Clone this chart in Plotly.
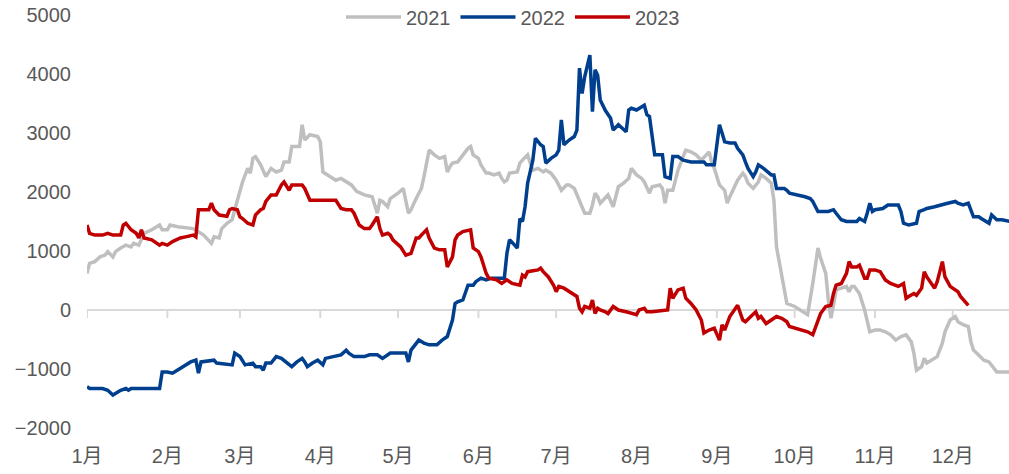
import pandas as pd
import plotly.graph_objects as go

# (day offset from Jan 1, value) pairs
s2021 = [(0,620),(1,790),(3,820),(5,900),(7,930),(8,990),(10,900),(11,990),(13,1050),(15,1100),(17,1070),(18,1130),(20,1100),(21,1220),(22,1300),(25,1360),(28,1440),(29,1360),(31,1360),(32,1440),(35,1410),(41,1380),(45,1270),(48,1130),(49,1240),(51,1220),(52,1380),(54,1470),(56,1530),(57,1700),(58,1870),(59,2030),(60,2170),(62,2400),(63,2320),(64,2570),(65,2600),(67,2460),(69,2260),(71,2400),(73,2340),(75,2370),(76,2510),(78,2510),(79,2770),(82,2770),(83,3140),(84,2880),(86,2970),(89,2940),(90,2850),(91,2340),(94,2260),(96,2200),(98,2230),(100,2170),(102,2120),(104,2010),(107,1950),(110,1920),(112,1640),(113,1860),(114,1840),(116,1750),(117,1890),(120,1980),(122,2060),(124,1640),(125,1700),(127,1890),(129,2060),(130,2260),(131,2490),(132,2710),(134,2630),(135,2600),(136,2570),(138,2600),(139,2340),(140,2430),(141,2490),(143,2510),(145,2630),(147,2740),(148,2770),(149,2630),(151,2570),(152,2460),(154,2320),(155,2320),(157,2290),(159,2320),(160,2230),(161,2170),(162,2200),(163,2320),(166,2340),(167,2490),(168,2540),(170,2630),(171,2490),(172,2370),(174,2400),(176,2340),(177,2370),(179,2320),(181,2200),(183,2030),(185,2120),(186,2120),(188,2060),(189,1950),(190,1860),(192,1640),(194,1640),(195,1780),(196,1980),(197,1920),(198,1810),(199,1860),(201,1950),(203,1750),(205,2090),(207,2150),(209,2230),(210,2400),(212,2290),(214,2230),(215,2170),(217,1980),(218,2090),(221,2120),(222,2060),(223,1810),(224,2030),(226,2030),(228,2370),(230,2600),(231,2710),(233,2680),(235,2630),(237,2540),(239,2630),(240,2680),(241,2510),(242,2400),(244,2120),(246,2030),(247,1810),(248,1920),(251,2200),(253,2320),(254,2260),(255,2150),(257,2060),(259,2170),(260,2290),(262,2230),(264,2150),(265,1860),(266,1070),(268,560),(270,110),(273,60),(275,0),(278,-80),(280,450),(282,1050),(283,880),(285,620),(286,170),(287,-140),(288,80),(289,340),(291,370),(293,400),(294,310),(295,400),(296,400),(298,280),(300,0),(302,-370),(304,-340),(306,-340),(308,-370),(310,-420),(312,-510),(314,-450),(316,-420),(318,-540),(319,-730),(320,-1020),(322,-960),(323,-820),(324,-900),(326,-850),(328,-790),(330,-560),(331,-370),(333,-170),(335,-110),(336,-200),(338,-250),(340,-280),(341,-540),(342,-680),(344,-760),(346,-850),(348,-880),(350,-990),(351,-1050),(354,-1050),(356,-1050)]

s2022 = [(0,-1300),(1,-1330),(6,-1330),(8,-1360),(10,-1440),(11,-1410),(13,-1360),(15,-1330),(16,-1360),(17,-1330),(28,-1330),(29,-1050),(31,-1050),(33,-1070),(36,-990),(38,-930),(40,-880),(42,-850),(43,-1070),(44,-880),(49,-850),(50,-900),(56,-930),(57,-730),(59,-790),(61,-930),(64,-900),(65,-960),(67,-960),(68,-1020),(69,-900),(71,-900),(73,-790),(75,-820),(77,-900),(79,-960),(81,-880),(83,-820),(84,-880),(85,-960),(87,-900),(89,-850),(91,-930),(92,-820),(95,-790),(98,-760),(100,-680),(101,-730),(103,-790),(107,-790),(109,-760),(112,-760),(114,-820),(117,-730),(123,-730),(124,-880),(125,-680),(128,-510),(130,-560),(132,-590),(135,-590),(137,-510),(139,-450),(141,-170),(142,110),(143,140),(145,170),(147,420),(149,420),(150,480),(152,540),(154,510),(156,540),(161,540),(162,960),(163,1190),(165,1100),(166,1050),(167,1550),(168,1500),(169,1750),(170,2150),(172,2540),(173,2910),(175,2800),(176,2770),(177,2490),(179,2570),(181,2630),(182,2710),(183,3220),(184,2800),(186,2880),(188,2940),(189,3050),(190,4100),(191,3670),(192,3950),(194,4320),(195,3360),(196,4070),(197,3980),(198,3560),(200,3380),(202,3250),(203,3050),(205,3140),(208,3020),(209,3390),(210,3420),(212,3390),(215,3470),(216,3310),(217,3280),(219,2630),(222,2630),(223,2260),(225,2230),(226,2600),(228,2600),(230,2540),(233,2510),(238,2510),(239,2460),(242,2460),(244,3140),(245,3000),(246,2850),(248,2830),(250,2830),(251,2740),(253,2630),(254,2510),(255,2400),(257,2260),(258,2340),(259,2460),(261,2400),(264,2290),(265,2290),(266,2060),(269,2060),(270,2030),(271,1980),(277,1920),(279,1890),(280,1840),(282,1670),(286,1670),(288,1700),(289,1640),(291,1530),(293,1500),(297,1500),(298,1550),(300,1500),(301,1640),(302,1810),(303,1670),(304,1700),(307,1720),(309,1780),(313,1780),(314,1670),(315,1470),(317,1440),(320,1470),(321,1670),(323,1700),(324,1720),(327,1750),(329,1780),(332,1810),(335,1840),(336,1810),(338,1780),(340,1810),(342,1580),(344,1580),(345,1550),(348,1470),(349,1610),(351,1530),(353,1530),(356,1500)]

s2023 = [(0,1440),(1,1300),(3,1270),(6,1270),(8,1300),(10,1270),(13,1270),(14,1440),(15,1470),(17,1360),(19,1300),(20,1220),(21,1360),(22,1220),(25,1190),(27,1130),(28,1100),(29,1130),(31,1100),(33,1160),(36,1220),(38,1240),(41,1270),(42,1240),(43,1700),(46,1700),(47,1700),(48,1810),(49,1700),(51,1610),(54,1590),(55,1700),(56,1720),(58,1700),(59,1580),(60,1550),(62,1470),(64,1440),(65,1610),(67,1700),(68,1720),(69,1840),(71,1950),(73,1950),(75,2120),(76,2170),(78,2030),(79,2120),(83,2120),(84,2060),(86,1860),(96,1860),(98,1720),(100,1700),(102,1700),(103,1640),(105,1440),(107,1380),(109,1380),(110,1440),(112,1580),(113,1380),(114,1270),(116,1300),(117,1270),(118,1190),(121,1070),(123,930),(125,960),(127,1220),(128,1220),(129,1270),(131,1360),(132,1220),(134,1050),(136,1020),(138,1020),(139,730),(141,900),(142,1190),(143,1270),(145,1330),(148,1360),(149,1050),(151,990),(152,900),(154,620),(155,540),(158,510),(160,450),(162,510),(164,450),(167,420),(168,590),(169,560),(170,650),(174,680),(175,710),(176,650),(178,560),(180,420),(181,310),(182,400),(184,370),(186,310),(188,250),(189,230),(190,30),(191,-30),(192,60),(194,30),(195,170),(196,-60),(197,30),(198,0),(200,-30),(201,-60),(203,60),(205,0),(208,-30),(210,-60),(212,-80),(213,0),(215,30),(216,-30),(218,-30),(224,0),(225,370),(226,200),(228,340),(230,370),(231,200),(233,110),(235,0),(237,-170),(238,-390),(240,-340),(242,-310),(244,-510),(245,-250),(246,-340),(248,-110),(251,80),(253,-170),(254,-200),(256,-110),(258,-30),(259,-140),(260,-110),(262,-230),(264,-170),(266,-110),(268,-140),(270,-200),(271,-280),(273,-310),(275,-340),(278,-370),(280,-420),(282,-200),(283,-60),(285,60),(287,80),(288,280),(289,420),(291,450),(293,620),(294,820),(295,730),(297,730),(298,760),(300,540),(301,540),(302,680),(304,680),(306,650),(308,510),(310,450),(313,400),(315,450),(316,200),(317,230),(319,280),(320,250),(322,370),(323,650),(324,560),(327,370),(328,480),(330,820),(331,560),(333,400),(334,370),(336,310),(337,230),(339,140),(340,80)]

series_names = ["2021", "2022", "2023"]
series_colors = ["#BFBFBF", "#003F8E", "#C00000"]
month_labels = [f"{m}月" for m in range(1, 13)]
y_ticks = [-2000, -1000, 0, 1000, 2000, 3000, 4000, 5000]

base = pd.Timestamp("2023-01-01")
month_starts = [pd.Timestamp(2023, m, 1) for m in range(1, 13)]

FONT = "Liberation Sans, Noto Sans CJK SC, sans-serif"
TXT = "#595959"
FS = 20

fig = go.Figure()
for name, color, data in zip(series_names, series_colors, [s2021, s2022, s2023]):
    days = [d for d, _ in data]
    vals = [v for _, v in data]
    x = [base + pd.Timedelta(days=d) for d in days]
    fig.add_trace(go.Scatter(x=x, y=vals, name=name, mode="lines",
                             line=dict(color=color, width=3.5)))

# tick marks hanging below the zero line
shapes = []
for ms in month_starts:
    shapes.append(dict(type="line", xref="x", yref="y", x0=ms, x1=ms,
                       ysizemode="pixel", yanchor=0, y0=0, y1=-8,
                       line=dict(color="#D9D9D9", width=2), layer="below"))

fig.update_layout(
    width=1009, height=474,
    margin=dict(l=87, r=0, t=15, b=46, autoexpand=False),
    paper_bgcolor="white", plot_bgcolor="white",
    font=dict(family=FONT, size=FS, color=TXT),
    showlegend=True,
    legend=dict(orientation="h", x=0.462, xanchor="center", y=0.995, yanchor="middle",
                font=dict(family=FONT, size=FS, color=TXT), bgcolor="rgba(0,0,0,0)",
                itemwidth=55, traceorder="normal"),
    shapes=shapes,
    xaxis=dict(type="date", range=[base, base + pd.Timedelta(days=355.7)],
               tickvals=month_starts, ticktext=month_labels, automargin=False,
               showgrid=False, zeroline=False, showline=False, ticks="",
               ticklabelstandoff=14, tickfont=dict(family=FONT, size=FS, color=TXT)),
    yaxis=dict(range=[-2000, 5000], tickvals=y_ticks, automargin=False,
               showgrid=False, zeroline=True, zerolinecolor="#D9D9D9", zerolinewidth=2,
               showline=False, ticks="", ticklabelstandoff=15,
               tickfont=dict(family=FONT, size=FS, color=TXT)),
)

fig.write_html("out.html", config={"displayModeBar": False},
               post_script="document.body.style.margin='0';document.body.style.overflow='hidden';")
